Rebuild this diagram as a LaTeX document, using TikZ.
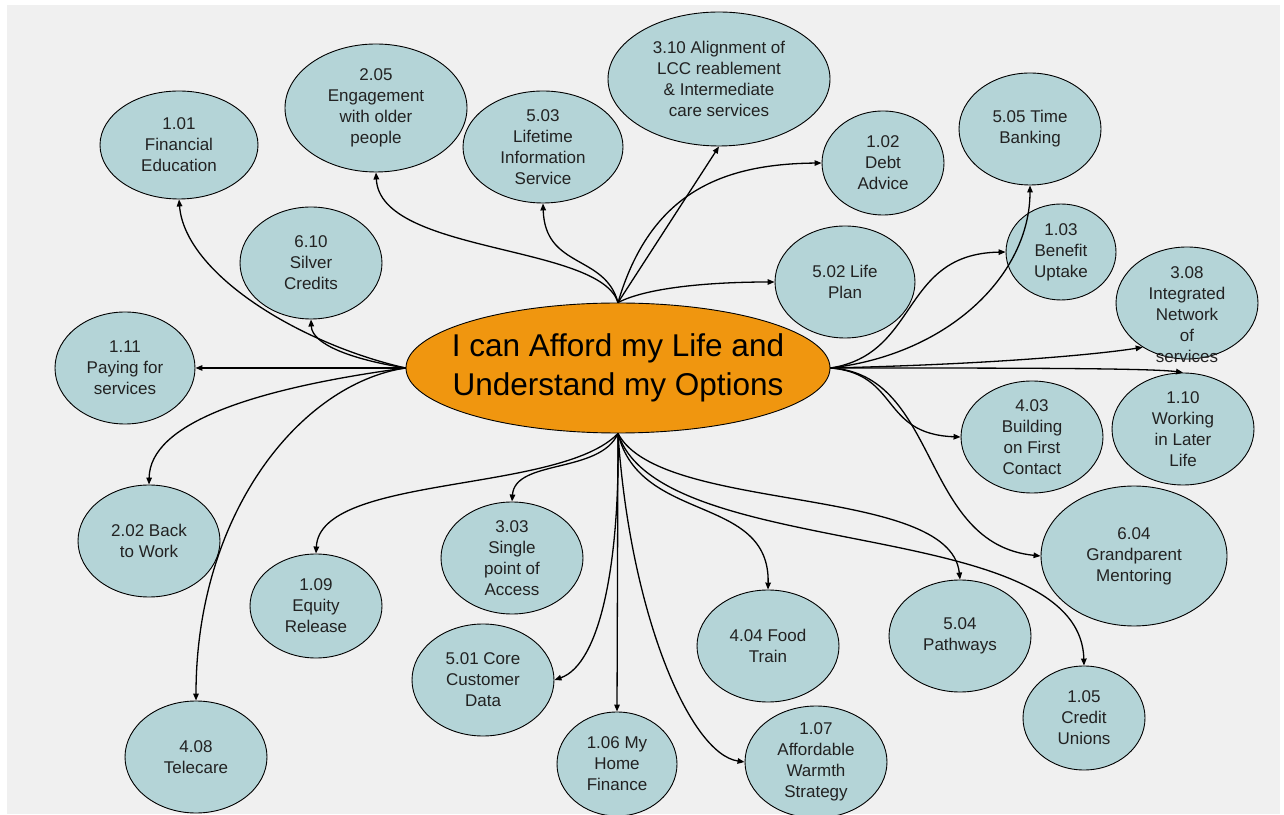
\documentclass[tikz,border=0pt]{standalone}
\usepackage{fontspec}
\setmainfont{Liberation Sans}
\usetikzlibrary{shapes.geometric,arrows.meta}

\definecolor{pagegray}{HTML}{F0F0F0}
\definecolor{bubblefill}{HTML}{B4D4D7}
\definecolor{hubfill}{HTML}{F0960F}
\definecolor{inkgray}{HTML}{222222}

\tikzset{
	bubble/.style 2 args={ellipse, draw=black, line width=0.9pt, fill=bubblefill, text=inkgray,
		align=center, inner sep=0pt, font=\fontsize{17}{21}\selectfont,
		minimum width=#1pt, minimum height=#2pt},
	bubtext/.style={text=inkgray, align=center, inner sep=0pt, font=\fontsize{17}{21}\selectfont},
	hub/.style={ellipse, draw=black, line width=0.9pt, fill=hubfill, text=black,
		align=center, inner xsep=-25pt, inner ysep=0pt, font=\fontsize{31.5}{39}\selectfont,
		minimum width=424pt, minimum height=130pt},
	link/.style={draw=black, line width=1.3pt, -{Triangle[length=7pt,width=5.5pt]}}
}

\begin{document}
\begin{tikzpicture}[x=1pt,y=1pt]
		%%%%% START %%%%%
		\useasboundingbox (0,0) rectangle (1284,814);
		\fill[pagegray] (7,0) rectangle (1280,809);
		
		% centre
		\node[hub] (hub) at (618,446) {I can Afford my Life and\\ Understand my Options};
		
		% top row
		\node[bubble={158}{108}] (c101) at (179,669) {1.01\\ Financial\\ Education};
		\node[bubble={182}{128}] (c205) at (376,706) {2.05\\ Engagement\\ with older\\ people};
		\node[bubble={160}{112}] (c503) at (543,667) {5.03\\ Lifetime\\ Information\\ Service};
		\node[bubble={222}{134}] (c310) at (719,735) {3.10 Alignment of\\ LCC reablement\\ \& Intermediate\\ care services};
		\node[bubble={122}{104}] (c102) at (883,651) {1.02\\ Debt\\ Advice};
		\node[bubble={142}{112}] (c505) at (1030,685) {5.05 Time\\ Banking};
		\node[bubble={142}{112}] (c610) at (311,551) {6.10\\ Silver\\ Credits};
		\node[bubble={140}{112}] (c502) at (845,532) {5.02 Life\\ Plan};
		\node[bubble={110}{96}] (c103) at (1061,562) {1.03\\ Benefit\\ Uptake};
		\node[bubble={142}{112}] (c308) at (1187,511) {};
		\node[bubtext] (t308) at ([yshift=-12pt]c308.center) {3.08\\ Integrated\\ Network\\ of\\ services};
		
		% middle
		\node[bubble={140}{112}] (c111) at (125,446) {1.11\\ Paying for\\ services};
		\node[bubble={142}{112}] (c403) at (1032,377) {4.03\\ Building\\ on First\\ Contact};
		\node[bubble={142}{112}] (c110) at (1183,385) {1.10\\ Working\\ in Later\\ Life};
		\node[bubble={142}{112}] (c202) at (149,273) {2.02 Back\\ to Work};
		\node[bubble={142}{112}] (c303) at (512,256) {3.03\\ Single\\ point of\\ Access};
		\node[bubble={132}{104}] (c109) at (316,208) {1.09\\ Equity\\ Release};
		\node[bubble={186}{140}] (c604) at (1134,258) {6.04\\ Grandparent\\ Mentoring};
		
		% bottom row
		\node[bubble={142}{112}] (c404) at (768,168) {4.04 Food\\ Train};
		\node[bubble={142}{112}] (c504) at (960,178) {5.04\\ Pathways};
		\node[bubble={142}{112}] (c501) at (483,134) {5.01 Core\\ Customer\\ Data};
		\node[bubble={142}{112}] (c408) at (196,57) {4.08\\ Telecare};
		\node[bubble={120}{104}] (c106) at (617,50) {1.06 My\\ Home\\ Finance};
		\node[bubble={142}{112}] (c107) at (816,52) {1.07\\ Affordable\\ Warmth\\ Strategy};
		\node[bubble={122}{104}] (c105) at (1084,96) {1.05\\ Credit\\ Unions};
		
		% links out of the top
		\draw[link] (hub.north) .. controls (600,570) and (380,560) .. (c205.south);
		\draw[link] (hub.north) .. controls (605,560) and (545,545) .. (c503.south);
		\draw[link] (hub.north) -- (c310.south);
		\draw[link] (hub.north) .. controls (650,620) and (720,650) .. (c102.west);
		\draw[link] (hub.north) .. controls (650,528) and (720,532) .. (c502.west);
		
		% links out of the left
		\draw[link] (hub.west) .. controls (300,470) and (185,540) .. (c101.south);
		\draw[link] (hub.west) .. controls (350,455) and (312,470) .. (c610.south);
		\draw[link] (hub.west) -- (c111.east);
		\draw[link] (hub.west) .. controls (250,425) and (150,390) .. (c202.north);
		\draw[link] (hub.west) .. controls (300,430) and (196,300) .. (c408.north);
		
		% links out of the right
		\draw[link] (hub.east) .. controls (950,460) and (1030,540) .. (c505.south);
		\draw[link] (hub.east) .. controls (920,460) and (900,560) .. (c103.west);
		\draw[link] (hub.east) .. controls (1000,450) and (1100,460) .. (c308.225);
		\draw[link] (hub.east) .. controls (1000,446) and (1150,446) .. (c110.north);
		\draw[link] (hub.east) .. controls (900,440) and (880,380) .. (c403.west);
		\draw[link] (hub.east) .. controls (940,440) and (920,270) .. (c604.west);
		
		% links out of the bottom
		\draw[link] (hub.south) .. controls (600,340) and (515,355) .. (c303.north);
		\draw[link] (hub.south) .. controls (560,320) and (320,340) .. (c109.north);
		\draw[link] (hub.south) .. controls (620,250) and (600,150) .. (c501.east);
		\draw[link] (hub.south) -- (c106.north);
		\draw[link] (hub.south) .. controls (630,200) and (690,60) .. (c107.west);
		\draw[link] (hub.south) .. controls (640,290) and (770,320) .. (c404.north);
		\draw[link] (hub.south) .. controls (660,300) and (950,330) .. (c504.north);
		\draw[link] (hub.south) .. controls (660,250) and (1080,300) .. (c105.north);
		%%%%% END %%%%%
\end{tikzpicture}
\end{document}
